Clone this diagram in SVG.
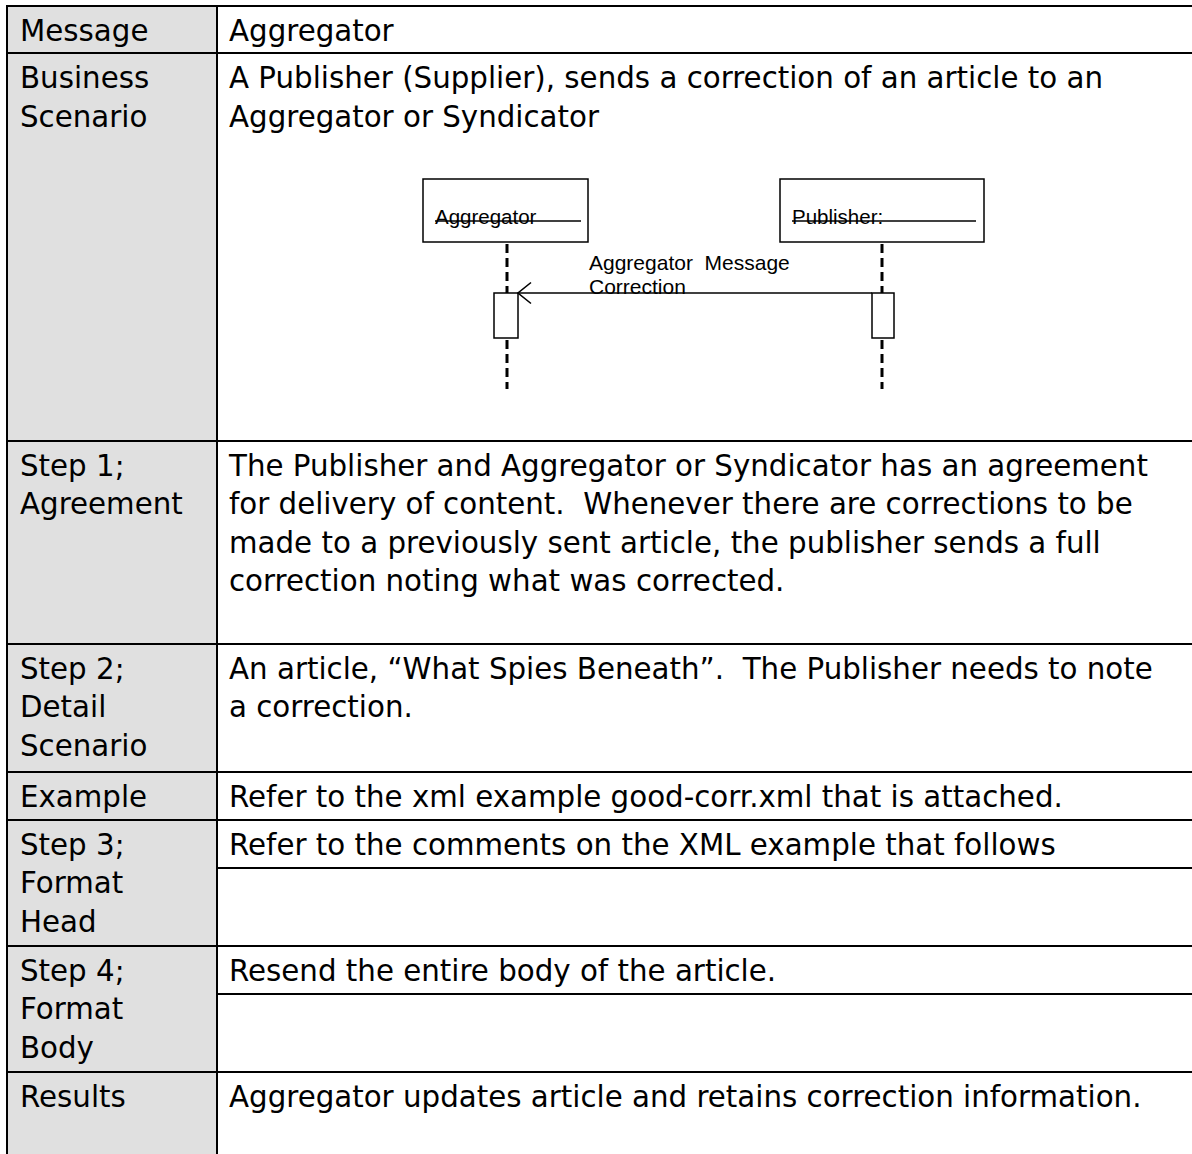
<svg xmlns="http://www.w3.org/2000/svg" width="1192" height="1154" viewBox="0 0 1192 1154" xml:space="preserve">
<style>
.t{font-family:"DejaVu Sans",Verdana,sans-serif;font-size:29.3px;fill:#000;white-space:pre}
.s{font-family:"Liberation Sans",Arial,sans-serif;font-size:20.5px;fill:#000;white-space:pre}
.g{stroke:#000;stroke-width:2;fill:none}
.b{stroke:#000;stroke-width:1.5;fill:#fff}
.ll{stroke:#000;stroke-width:3;stroke-dasharray:9 5;fill:none}
</style>
<defs>
<marker id="open" markerWidth="16" markerHeight="24" refX="14" refY="12" orient="auto" markerUnits="userSpaceOnUse">
<path d="M1,1.5 L14,12 L1,22.5" fill="none" stroke="#000" stroke-width="1.6"/>
</marker>
</defs>
<g id="table">
<rect x="7" y="6" width="210" height="1150" fill="#e0e0e0"/>
<g class="g">
<line x1="6" y1="6" x2="1192" y2="6"/>
<line x1="7" y1="6" x2="7" y2="1154"/>
<line x1="217" y1="6" x2="217" y2="1154"/>
<line x1="6" y1="53" x2="1192" y2="53"/>
<line x1="6" y1="441" x2="1192" y2="441"/>
<line x1="6" y1="644" x2="1192" y2="644"/>
<line x1="6" y1="772" x2="1192" y2="772"/>
<line x1="6" y1="820" x2="1192" y2="820"/>
<line x1="217" y1="868" x2="1192" y2="868"/>
<line x1="6" y1="946" x2="1192" y2="946"/>
<line x1="217" y1="994" x2="1192" y2="994"/>
<line x1="6" y1="1072" x2="1192" y2="1072"/>
</g>
</g>
<g id="row-message">
<text class="t" x="20" y="40.5">Message</text>
<text class="t" x="229" y="40.5">Aggregator</text>
</g>
<g id="row-business">
<text class="t" x="20" y="88">Business</text>
<text class="t" x="20" y="126.5">Scenario</text>
<text class="t" x="229" y="88">A Publisher (Supplier), sends a correction of an article to an</text>
<text class="t" x="229" y="126.5">Aggregator or Syndicator</text>
</g>
<g id="row-step1">
<text class="t" x="20" y="475.5">Step 1;</text>
<text class="t" x="20" y="514">Agreement</text>
<text class="t" x="229" y="475.5">The Publisher and Aggregator or Syndicator has an agreement</text>
<text class="t" x="229" y="514">for delivery of content.  Whenever there are corrections to be</text>
<text class="t" x="229" y="552.5">made to a previously sent article, the publisher sends a full</text>
<text class="t" x="229" y="591">correction noting what was corrected.</text>
</g>
<g id="row-step2">
<text class="t" x="20" y="678.5">Step 2;</text>
<text class="t" x="20" y="717">Detail</text>
<text class="t" x="20" y="755.5">Scenario</text>
<text class="t" x="229" y="678.5">An article, “What Spies Beneath”.  The Publisher needs to note</text>
<text class="t" x="229" y="717">a correction.</text>
</g>
<g id="row-example">
<text class="t" x="20" y="806.5">Example</text>
<text class="t" x="229" y="806.5">Refer to the xml example good-corr.xml that is attached.</text>
</g>
<g id="row-step3">
<text class="t" x="20" y="854.5">Step 3;</text>
<text class="t" x="20" y="893">Format</text>
<text class="t" x="20" y="931.5">Head</text>
<text class="t" x="229" y="854.5">Refer to the comments on the XML example that follows</text>
</g>
<g id="row-step4">
<text class="t" x="20" y="980.5">Step 4;</text>
<text class="t" x="20" y="1019">Format</text>
<text class="t" x="20" y="1057.5">Body</text>
<text class="t" x="229" y="980.5">Resend the entire body of the article.</text>
</g>
<g id="row-results">
<text class="t" x="20" y="1106.5">Results</text>
<text class="t" x="229" y="1106.5">Aggregator updates article and retains correction information.</text>
</g>
<g id="node-aggregator">
<rect class="b" x="423" y="179" width="165" height="63"/>
<text class="s" x="435" y="224">Aggregator</text>
<line x1="435" y1="221" x2="581" y2="221" stroke="#000" stroke-width="1.5"/>
<line class="ll" x1="507" y1="244" x2="507" y2="293"/>
<line class="ll" x1="507" y1="340" x2="507" y2="389"/>
<rect class="b" x="494" y="293" width="24" height="45"/>
</g>
<g id="node-publisher">
<rect class="b" x="780" y="179" width="204" height="63"/>
<text class="s" x="792" y="224">Publisher:</text>
<line x1="792" y1="221" x2="976" y2="221" stroke="#000" stroke-width="1.5"/>
<line class="ll" x1="882" y1="244" x2="882" y2="293"/>
<line class="ll" x1="882" y1="340" x2="882" y2="389"/>
<rect class="b" x="872" y="293" width="22" height="45"/>
</g>
<g id="connectors">
<line x1="872" y1="293" x2="518" y2="293" stroke="#000" stroke-width="1.5" marker-end="url(#open)"/>
<text class="s" x="589" y="270" style="font-size:21px">Aggregator  Message</text>
<text class="s" x="589" y="294" style="font-size:21px">Correction</text>
</g>
</svg>
